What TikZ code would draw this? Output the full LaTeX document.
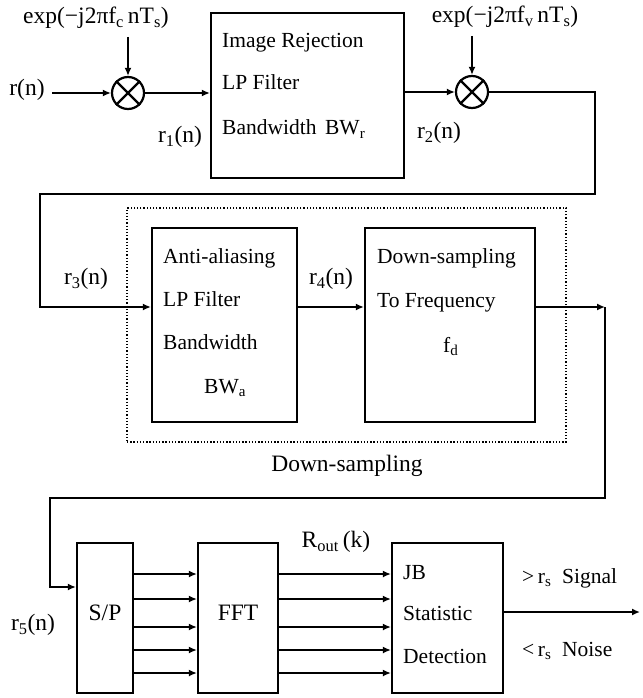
\documentclass[tikz,border=0pt]{standalone}
\usepackage{fontspec}
\setmainfont{Liberation Serif}
\usetikzlibrary{arrows.meta,calc}
\newcommand{\sbs}[1]{\textsubscript{#1}}
\begin{document}
\begin{tikzpicture}[x=1pt,y=-1pt,
  blk/.style={draw,line width=2.2pt,inner sep=0pt},
  mixer/.style={draw,circle,line width=2.2pt,minimum size=32pt,inner sep=0pt},
  wire/.style={line width=2pt},
  arr/.style={line width=2pt,-{Latex[length=8pt,width=7pt]}},
  txt/.style={font=\fontsize{21.5}{25}\selectfont,inner sep=0pt,anchor=base west},
  lbl/.style={font=\fontsize{23.5}{27}\selectfont,inner sep=0pt},
  dotbox/.style={draw,line width=1.8pt,dash pattern=on 1.3pt off 1.9pt}]
\useasboundingbox (0,0) rectangle (642,698);
% ---------- top row ----------
\node[lbl] (rn) at (27,90) {r(n)};
\node[mixer] (mix1) at (128,93) {};
\draw[line width=2.2pt] (mix1.north west) -- (mix1.south east) (mix1.north east) -- (mix1.south west);
\node[lbl] (exp1) at (96,18) {exp(−j2πf\sbs{c}\,nT\sbs{s})};
\node[blk,minimum width=193pt,minimum height=165pt] (box1) at (307.5,95.5) {};
\node[txt] (t11) at (222,48) {Image Rejection};
\node[txt] (t12) at (222,90) {LP Filter};
\node[txt] (t13) at (222,135) {Bandwidth\hspace{0.4em}BW\sbs{r}};
\node[lbl] (r1) at (180,137) {r\sbs{1}(n)};
\node[mixer] (mix2) at (472,92) {};
\draw[line width=2.2pt] (mix2.north west) -- (mix2.south east) (mix2.north east) -- (mix2.south west);
\node[lbl] (exp2) at (505,17) {exp(−j2πf\sbs{v}\,nT\sbs{s})};
\node[lbl] (r2) at (439,133) {r\sbs{2}(n)};

\coordinate (rs) at (52,93);
\draw[arr] (rs) -- (rs -| mix1.west);
\draw[arr,shorten <=8pt] (exp1.south -| mix1.north) -- (mix1.north);
\draw[arr] (mix1.east) -- (mix1.east -| box1.west);
\draw[arr] (box1.east |- mix2.west) -- (mix2.west);
\draw[arr,shorten <=8pt] (exp2.south -| mix2.north) -- (mix2.north);

% ---------- middle row ----------
\node[dotbox,minimum width=439pt,minimum height=234pt,inner sep=0pt] (dsgroup) at (346.5,325) {};
\node[lbl] (dslabel) at (347,466) {Down-sampling};
\node[blk,minimum width=145pt,minimum height=194pt] (aa) at (224.5,325) {};
\node[txt] (t21) at (163,263) {Anti-aliasing};
\node[txt] (t22) at (163,306) {LP Filter};
\node[txt] (t23) at (163,349) {Bandwidth};
\node[txt] (t24) at (204,393) {BW\sbs{a}};
\node[blk,minimum width=170pt,minimum height=194pt] (ds) at (450,325) {};
\node[txt] (t31) at (377,263) {Down-sampling};
\node[txt] (t32) at (377,307) {To Frequency};
\node[txt] (t33) at (443,352) {f\sbs{d}};
\node[lbl] (r3) at (86,279) {r\sbs{3}(n)};
\node[lbl] (r4) at (331,279) {r\sbs{4}(n)};

\coordinate (k1) at (595,92);
\coordinate (k2) at (595,194);
\coordinate (k3) at (40,194);
\coordinate (k4) at (40,307);
\draw[arr] (mix2.east) -- (k1) -- (k2) -- (k3) -- (k4) -- (k4 -| aa.west);
\draw[arr] (aa.east |- k4) -- (ds.west |- k4);
\coordinate (k5) at (605,307);
\draw[arr] (ds.east |- k5) -- (k5);

% ---------- bottom row ----------
\node[blk,minimum width=56pt,minimum height=150pt] (sp) at (105,618) {};
\node[lbl,anchor=base] (tsp) at (105,620) {S/P};
\node[blk,minimum width=80pt,minimum height=150pt] (fft) at (238,618) {};
\node[lbl,anchor=base] (tfft) at (238,620) {FFT};
\node[blk,minimum width=111pt,minimum height=150pt] (jb) at (447.5,618) {};
\node[txt] (t41) at (403,579) {JB};
\node[txt] (t42) at (403,620) {Statistic};
\node[txt] (t43) at (403,663) {Detection};
\node[lbl] (r5) at (33,625) {r\sbs{5}(n)};
\node[lbl] (rout) at (336,542) {R\sbs{out}\,(k)};
\node[txt] (sig) at (522,583) {>\,r\sbs{s}\hspace{0.5em}Signal};
\node[txt] (noi) at (522,656) {<\,r\sbs{s}\hspace{0.5em}Noise};

\coordinate (k6) at (605,498);
\coordinate (k7) at (50,498);
\coordinate (k8) at (50,587);
\draw[arr] (k5) -- (k6) -- (k7) -- (k8) -- (k8 -| sp.west);
\foreach \yy in {574,599,627,650,673} {
  \coordinate (la) at (0,\yy);
  \draw[arr] (sp.east |- la) -- (fft.west |- la);
  \draw[arr] (fft.east |- la) -- (jb.west |- la);
}
\coordinate (kout) at (640,612);
\draw[arr] (jb.east |- kout) -- (kout);
\end{tikzpicture}
\end{document}
